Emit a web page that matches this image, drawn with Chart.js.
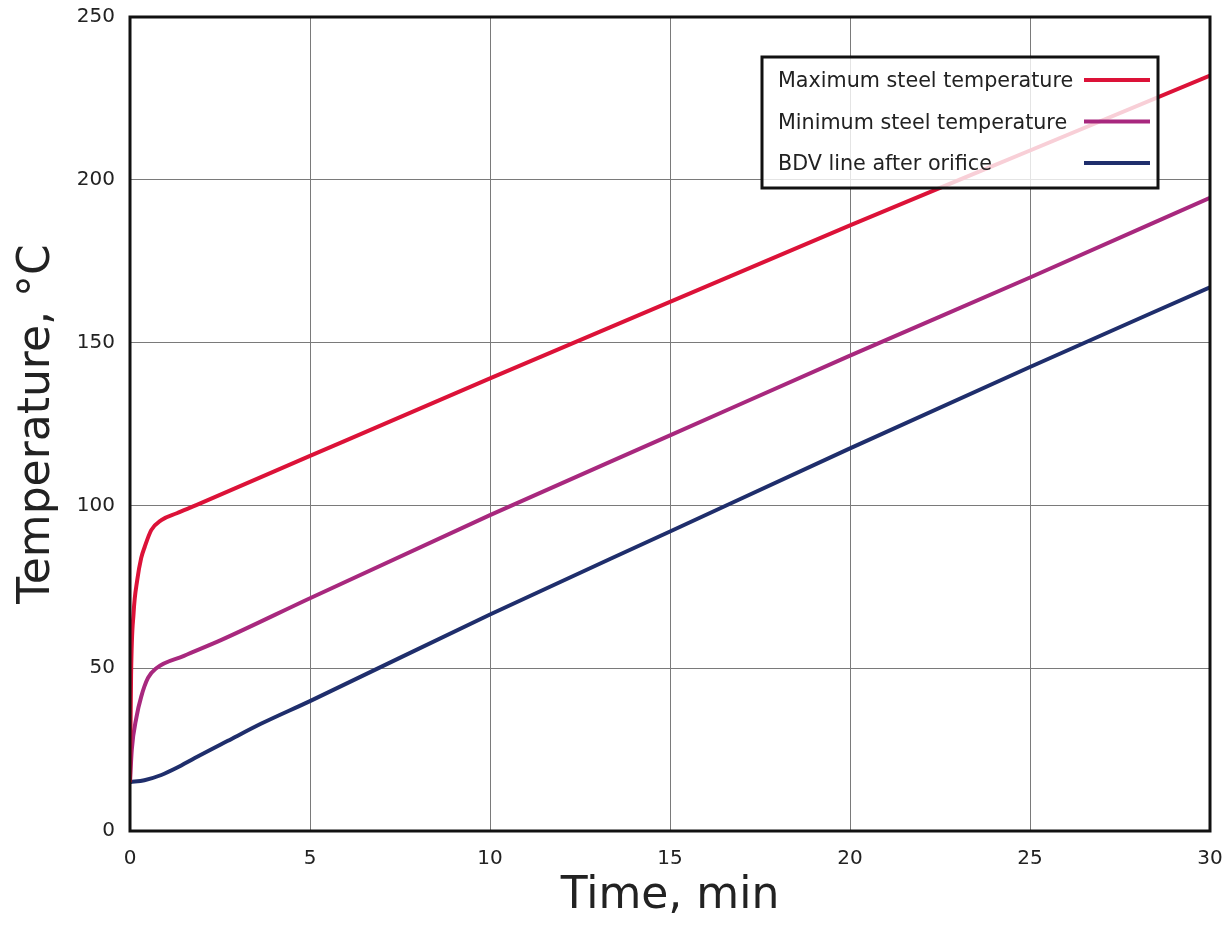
<!DOCTYPE html>
<html>
<head>
<meta charset="utf-8">
<title>Steel temperature during blowdown</title>
<script src="https://cdn.jsdelivr.net/npm/chart.js@4"></script>
<style>
  html, body { margin: 0; padding: 0; background: #fff; }
  #wrap { width: 1230px; height: 951px; }
</style>
</head>
<body>
<div id="wrap"><canvas id="tempChart" width="1230" height="951"></canvas></div>
<script>
// time in minutes, temperature in degC
const maxTime = [0, 0.03, 0.1, 0.2, 0.31, 0.41, 0.59, 0.87, 1.3, 1.84, 5, 10, 15, 20, 25, 30];
const maxTemp = [15, 48, 67, 77, 83.8, 87.3, 92.4, 95.5, 97.6, 100.1, 115.2, 139, 162.5, 186, 209, 232];

const minTime = [0, 0.05, 0.18, 0.31, 0.5, 0.73, 1.5, 2.54, 5, 10, 15, 20, 25, 30];
const minTemp = [15, 25, 35, 41.2, 47, 50, 53.8, 58.7, 71.5, 97, 121.5, 146, 170, 194.5];

const bdvTime = [0, 0.4, 0.87, 1.3, 1.8, 2.72, 3.65, 5, 10, 15, 20, 25, 30];
const bdvTemp = [15, 15.6, 17.2, 19.4, 22.4, 27.7, 33, 39.9, 66.5, 92, 117.5, 142.5, 167];

const seriesNames = ["Maximum steel temperature", "Minimum steel temperature", "BDV line after orifice"];
const seriesColors = ["#dc1238", "#a8287e", "#1f2e6c"];

const toPoints = (xs, ys) => xs.map((x, i) => ({ x, y: ys[i] }));

const FONT = "'DejaVu Sans', Verdana, sans-serif";

/* =========================
   FRAME + LEGEND (text left, line right)
========================= */
const framePlugin = {
  id: "frameLegend",
  afterDatasetsDraw(chart) {
    const { ctx, chartArea: a } = chart;
    ctx.save();

    // legend box
    const bx = 762, by = 57, bw = 396, bh = 131;
    ctx.fillStyle = "rgba(255,255,255,0.8)";
    ctx.fillRect(bx, by, bw, bh);
    ctx.strokeStyle = "#111";
    ctx.lineWidth = 3;
    ctx.strokeRect(bx, by, bw, bh);

    ctx.font = "20.7px " + FONT;
    ctx.textBaseline = "middle";
    ctx.textAlign = "left";
    chart.data.datasets.forEach((ds, i) => {
      const y = by + 25 + i * 41.5;
      ctx.fillStyle = "#222";
      ctx.fillText(ds.label, bx + 16, y);
      ctx.strokeStyle = ds.borderColor;
      ctx.lineWidth = 4;
      ctx.beginPath();
      ctx.moveTo(1084, y - 2);
      ctx.lineTo(1150, y - 2);
      ctx.stroke();
    });

    // plot frame
    ctx.strokeStyle = "#111";
    ctx.lineWidth = 3;
    ctx.strokeRect(a.left, a.top, a.right - a.left, a.bottom - a.top);
    ctx.restore();
  }
};

new Chart(document.getElementById("tempChart"), {
  type: "line",
  data: {
    datasets: [
      { label: seriesNames[0], data: toPoints(maxTime, maxTemp), borderColor: seriesColors[0] },
      { label: seriesNames[1], data: toPoints(minTime, minTemp), borderColor: seriesColors[1] },
      { label: seriesNames[2], data: toPoints(bdvTime, bdvTemp), borderColor: seriesColors[2] }
    ].map(d => Object.assign(d, {
      borderWidth: 4,
      pointRadius: 0,
      fill: false,
      cubicInterpolationMode: "monotone"
    }))
  },
  options: {
    responsive: false,
    animation: false,
    layout: { padding: { top: 17, right: 20, left: 0, bottom: 0 } },
    plugins: {
      legend: { display: false },
      tooltip: { enabled: false }
    },
    scales: {
      x: {
        type: "linear",
        min: 0,
        max: 30,
        // fixed axis height; tick label overhang handled by layout padding
        afterFit: s => { s.height = 120; s.paddingLeft = 0; s.paddingRight = 0; },
        ticks: {
          stepSize: 5,
          padding: 16,
          color: "#222",
          font: { family: FONT, size: 20 }
        },
        grid: { color: "#7a7a7a", lineWidth: 1, drawTicks: false },
        border: { display: false },
        title: {
          display: true,
          text: "Time, min",
          color: "#222",
          padding: { top: 0, bottom: 28 },
          font: { family: FONT, size: 44 }
        }
      },
      y: {
        min: 0,
        max: 250,
        afterFit: s => { s.width = 130; s.paddingTop = 0; s.paddingBottom = 0; },
        ticks: {
          stepSize: 50,
          padding: 15,
          color: "#222",
          font: { family: FONT, size: 20 }
        },
        grid: { color: "#7a7a7a", lineWidth: 1, drawTicks: false },
        border: { display: false },
        title: {
          display: true,
          text: "Temperature, °C",
          color: "#222",
          align: "center",
          padding: { top: 11, bottom: 0 },
          font: { family: FONT, size: 44 }
        }
      }
    }
  },
  plugins: [framePlugin]
});
</script>
</body>
</html>
